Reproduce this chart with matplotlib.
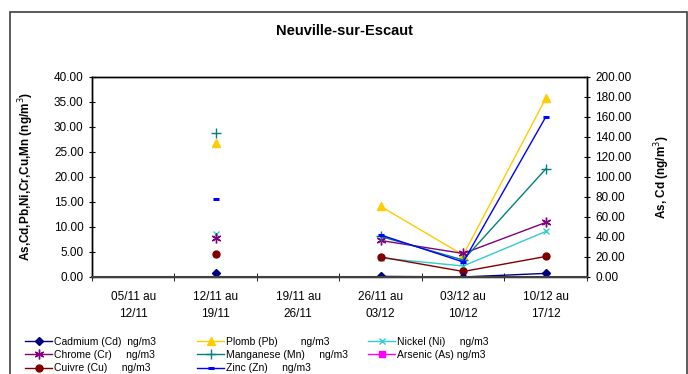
import numpy as np
import matplotlib
matplotlib.use("Agg")
import matplotlib.pyplot as plt
from matplotlib.patches import Rectangle

plt.rcParams['font.family'] = ['Liberation Sans', 'DejaVu Sans']

weeks = ["05/11 au\n12/11", "12/11 au\n19/11", "19/11 au\n26/11",
         "26/11 au\n03/12", "03/12 au\n10/12", "10/12 au\n17/12"]

nan = np.nan
# left axis (ng/m3)
plomb = [nan, 26.8, nan, 14.1, 4.4, 35.7]
nickel = [nan, 8.5, nan, 3.8, 2.2, 9.1]
chrome = [nan, 7.8, nan, 7.3, 4.7, 10.9]
manganese = [nan, 28.8, nan, 8.1, 3.4, 21.6]
cuivre = [nan, 4.5, nan, 4.0, 1.1, 4.1]
zinc = [nan, 15.5, nan, 8.4, 3.0, 32.0]
# right axis (ng/m3)
cadmium = [nan, 3.6, nan, 0.6, 0.0, 3.6]
arsenic = [nan, nan, nan, nan, nan, nan]

fig = plt.figure(figsize=(6.88, 3.74), dpi=100)
ax = fig.add_axes([0.1337, 0.2594, 0.7195, 0.5348])
ax2 = ax.twinx()

x = np.arange(len(weeks))

series_left = {
    "pb": (plomb, "#FFCC00", "^", 5.5, "Plomb (Pb)        ng/m3"),
    "ni": (nickel, "#33CCCC", "x", 5, "Nickel (Ni)     ng/m3"),
    "cr": (chrome, "#800080", (6, 2, 0), 7, "Chrome (Cr)     ng/m3"),
    "mn": (manganese, "#008080", "+", 7, "Manganese (Mn)     ng/m3"),
    "cu": (cuivre, "#800000", "o", 5, "Cuivre (Cu)     ng/m3"),
    "zn": (zinc, "#0000FF", "_", 5, "Zinc (Zn)     ng/m3"),
}
handles = {}
for key, (vals, col, mk, ms, lab) in series_left.items():
    h, = ax.plot(x, vals, color=col, marker=mk, markersize=ms, lw=1.0,
                 markeredgewidth=1.0 if mk != "_" else 2.2, label=lab)
    handles[key] = h

h, = ax2.plot(x, cadmium, color="#000080", marker="D", markersize=4.5, lw=1.0,
              label="Cadmium (Cd)  ng/m3")
handles["cd"] = h
h, = ax2.plot(x, arsenic, color="#FF00FF", marker="s", markersize=4.5, lw=1.0,
              label="Arsenic (As) ng/m3")
handles["as"] = h

ax.set_xlim(-0.5, len(weeks) - 0.5)
ax.set_ylim(0, 40)
ax2.set_ylim(0, 200)
ax.set_yticks(np.arange(0, 40.1, 5))
ax.set_yticklabels([f"{v:.2f}" for v in np.arange(0, 40.1, 5)])
ax2.set_yticks(np.arange(0, 200.1, 20))
ax2.set_yticklabels([f"{v:.2f}" for v in np.arange(0, 200.1, 20)])

ax.set_xticks(x)
ax.set_xticklabels(weeks, fontsize=8.5, linespacing=1.55)
ax.tick_params(axis='x', length=0, pad=10)
ax.set_xticks(np.arange(-0.5, len(weeks)), minor=True)
ax.tick_params(axis='x', which='minor', length=6, direction='inout')

ax.tick_params(axis='y', labelsize=8.5, direction='inout', length=5)
ax2.tick_params(axis='y', labelsize=8.5, direction='inout', length=5)

for a in (ax, ax2):
    for s in a.spines.values():
        s.set_linewidth(1.0)
        s.set_color("black")
ax2.spines['bottom'].set_color("#404040")
ax2.spines['bottom'].set_linewidth(1.5)

ax.set_ylabel("As,Cd,Pb,Ni,Cr,Cu,Mn (ng/m$^3$)", fontsize=8.5, fontweight='bold',
              labelpad=13)
ax2.set_ylabel("As, Cd (ng/m$^3$)", fontsize=8.5, fontweight='bold', labelpad=15)
fig.text(0.5, 1 - 31 / 374, "Neuville-sur-Escaut", fontsize=10.5,
         fontweight='bold', ha='center', va='center')

# legend laid out in three columns
columns = [["cd", "cr", "cu"], ["pb", "mn", "zn"], ["ni", "as"]]
col_x = [25, 197, 368]
for keys, cx in zip(columns, col_x):
    fig.legend([handles[k] for k in keys], [handles[k].get_label() for k in keys],
               loc='upper left', bbox_to_anchor=(cx / 688, 1 - 337 / 374),
               frameon=False, fontsize=7.5, handlelength=2.6,
               handletextpad=0.2, labelspacing=0.3, borderaxespad=0,
               borderpad=0)

# outer chart frame
fig.patches.append(Rectangle((10 / 688, -0.05), 677 / 688, 1.05 - 12 / 374,
                             transform=fig.transFigure, fill=False,
                             edgecolor="#404040", lw=1.2))

fig.savefig("out.png", dpi=100)
